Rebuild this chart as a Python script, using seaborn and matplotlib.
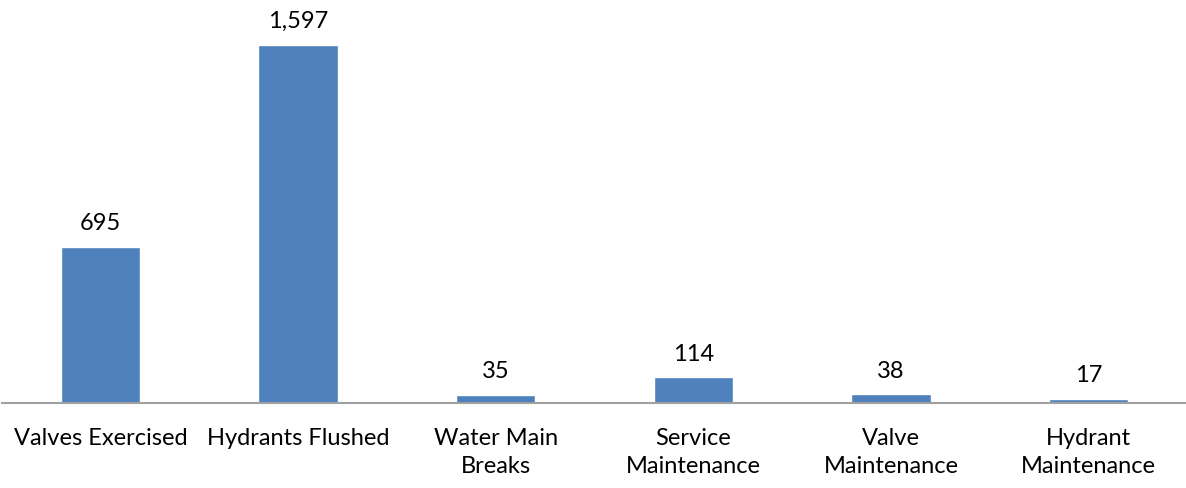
import matplotlib
matplotlib.use('Agg')
import matplotlib.pyplot as plt
import seaborn as sns

# Data
categories = ['Valves Exercised', 'Hydrants Flushed', 'Water Main\nBreaks',
              'Service\nMaintenance', 'Valve\nMaintenance', 'Hydrant\nMaintenance']
counts = [695, 1597, 35, 114, 38, 17]

sns.set_style('white')
plt.rcParams['font.family'] = ['Lato', 'DejaVu Sans']

fig = plt.figure(figsize=(11.86, 4.89), dpi=100)
ax = fig.add_axes([1.5 / 1186, 1 - 404 / 489, 1.0, 404 / 489])

sns.barplot(x=categories, y=counts, color='#4F81BD', width=0.4,
            saturation=1, ax=ax)

ax.set_ylim(0, 1800)
ax.set_xlim(-0.5, 5.5)
ax.bar_label(ax.containers[0], labels=[f'{v:,}' for v in counts],
             padding=10, fontsize=17, color='black')

for s in ['top', 'left', 'right']:
    ax.spines[s].set_visible(False)
ax.spines['bottom'].set_color('#A0A0A0')
ax.spines['bottom'].set_linewidth(1.5)
ax.set_yticks([])
ax.tick_params(axis='x', length=0, pad=17, labelsize=17, labelcolor='black')
for t in ax.get_xticklabels():
    t.set_linespacing(1.42)

fig.savefig('out.png', dpi=100)
